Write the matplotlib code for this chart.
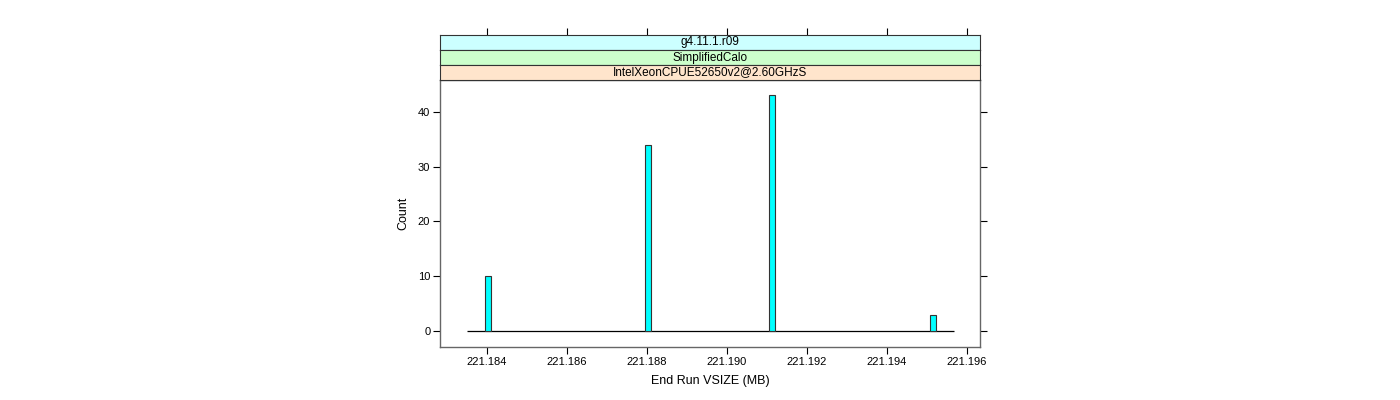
import matplotlib
matplotlib.use("Agg")
import matplotlib.pyplot as plt
import numpy as np

# histogram data
bin_centers = [221.18403, 221.18803, 221.19114, 221.19515]
counts = [10, 34, 43, 3]
bin_width = 0.00015
hist_range = (221.18350, 221.19568)

strip_labels = ["g4.11.1.r09", "SimplifiedCalo", "IntelXeonCPUE52650v2@2.60GHzS"]
strip_colors = ["#ccffff", "#ccffcc", "#ffe5cc"]

x_ticks = [221.184, 221.186, 221.188, 221.190, 221.192, 221.194, 221.196]
y_ticks = [0, 10, 20, 30, 40]

plt.rcParams["font.family"] = ["Liberation Sans", "DejaVu Sans"]
plt.rcParams["font.size"] = 8

W, H = 1400, 400
fig = plt.figure(figsize=(W / 100, H / 100), dpi=100)

# panel geometry in pixels
px_l, px_r = 440, 980
py_bot, py_top = 347, 80
strip_h = 15

ax = fig.add_axes([px_l / W, 1 - py_bot / H, (px_r - px_l) / W, (py_bot - py_top) / H])
frame_col = "#666666"

ax.bar(bin_centers, counts, width=bin_width, color="#00ffff",
       edgecolor="#333333", linewidth=0.8, zorder=3)
ax.hlines(0, hist_range[0], hist_range[1], color="black", linewidth=0.9, zorder=2)

ax.set_xlim(221.18283, 221.19633)
ax.set_ylim(-2.9, 45.8)
ax.set_xticks(x_ticks)
ax.set_xticklabels([f"{v:.3f}" for v in x_ticks])
ax.set_yticks(y_ticks)
ax.tick_params(direction="out", length=5, width=0.8, color="black",
               right=True, labelsize=8, pad=2)
for s in ax.spines.values():
    s.set_color(frame_col)
    s.set_linewidth(1.0)
ax.set_xlabel("End Run VSIZE (MB)", fontsize=9, labelpad=6)
ax.set_ylabel("Count", fontsize=9, labelpad=6)

# strips above the panel
for i, (lab, col) in enumerate(zip(strip_labels, strip_colors)):
    top = py_top - (len(strip_labels) - i) * strip_h
    sax = fig.add_axes([px_l / W, 1 - (top + strip_h) / H, (px_r - px_l) / W, strip_h / H])
    sax.set_facecolor(col)
    sax.set_xticks([]); sax.set_yticks([])
    for s in sax.spines.values():
        s.set_color("#333333")
        s.set_linewidth(0.8)
    sax.text(0.5, 0.5, lab, ha="center", va="center", fontsize=8.5,
             transform=sax.transAxes)

# top ticks above the strips
loc = 1 + (len(strip_labels) * strip_h) / (py_bot - py_top)
sec = ax.secondary_xaxis(loc)
sec.set_xticks(x_ticks)
sec.set_xticklabels([])
sec.tick_params(direction="out", length=5, width=0.8, color="black")
sec.spines["top"].set_visible(False)

fig.savefig("out.png", dpi=100)
